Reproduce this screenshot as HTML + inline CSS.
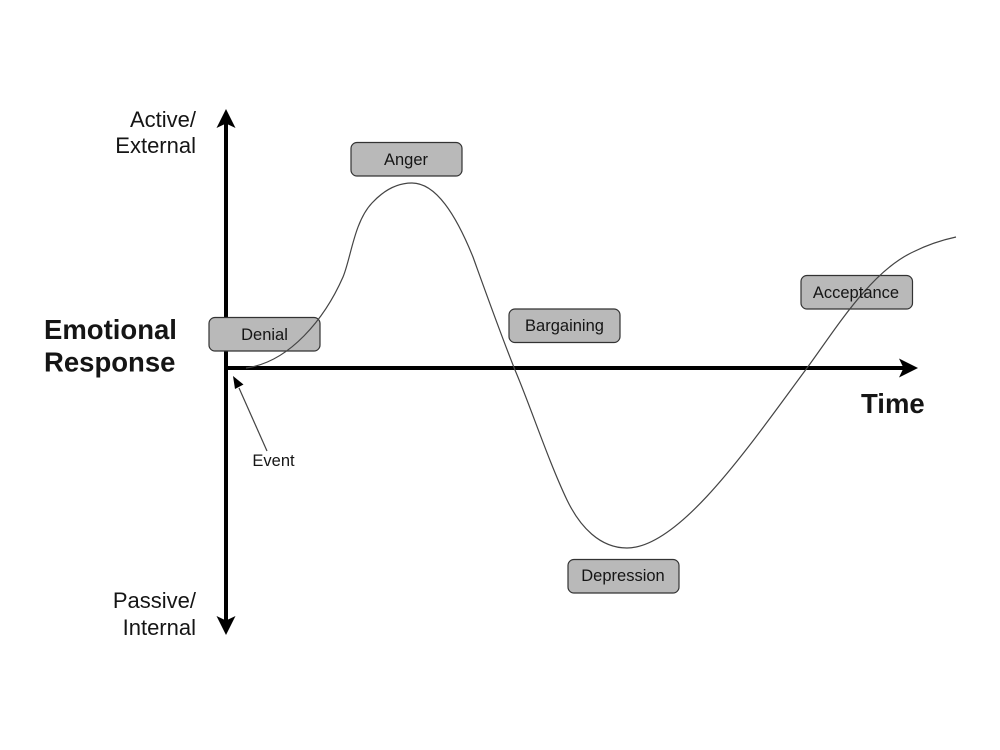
<!DOCTYPE html>
<html>
<head>
<meta charset="utf-8">
<style>
html,body{margin:0;padding:0;background:#fff;}
svg{display:block;}
text{font-family:"Liberation Sans",sans-serif;fill:#151515;}
.b{fill:#b9b9b9;stroke:#333;stroke-width:1.2;}
</style>
</head>
<body>
<svg width="1000" height="750" viewBox="0 0 1000 750" xmlns="http://www.w3.org/2000/svg">
<rect width="1000" height="750" fill="#fff"/>
<!-- axes -->
<line x1="226" y1="122" x2="226" y2="622" stroke="#000" stroke-width="4"/>
<path d="M226 109 L235.500 128 L226 123.500 L216.500 128 Z" fill="#000"/>
<path d="M226 635 L235.500 616 L226 620.500 L216.500 616 Z" fill="#000"/>
<line x1="226" y1="368" x2="905" y2="368" stroke="#000" stroke-width="4"/>
<path d="M918 368 L899 358.500 L903.500 368 L899 377.500 Z" fill="#000"/>
<!-- boxes -->
<rect class="b" x="209" y="317.500" width="111" height="33.500" rx="6"/>
<rect class="b" x="351" y="142.500" width="111" height="33.500" rx="6"/>
<rect class="b" x="509" y="309" width="111" height="33.500" rx="6"/>
<rect class="b" x="568" y="559.500" width="111" height="33.500" rx="6"/>
<rect class="b" x="801" y="275.500" width="111.500" height="33.500" rx="6"/>
<!-- curve -->
<path d="M246 368 C290 362 325 318 343 277 C351 258 354 222 372 203 C384 190 398 183 412 183 C436 183 456 215 473 257 C486 293 501 335 515 370 C530 405 548 460 567 500 C580 527 600 548 627 548 C680 548 750 445 807 368 C835 330 870 272 913 252 C927 245 942 240 956 237" fill="none" stroke="#444" stroke-width="1.200"/>
<!-- event arrow -->
<line x1="267" y1="451" x2="239" y2="388" stroke="#444" stroke-width="1.200"/>
<path d="M233 376 L243.500 384.500 L235 389 Z" fill="#000"/>
<!-- labels -->
<text x="196" y="127" font-size="22" text-anchor="end">Active/</text>
<text x="196" y="153" font-size="22" text-anchor="end">External</text>
<text x="196" y="608" font-size="22" text-anchor="end">Passive/</text>
<text x="196" y="635" font-size="22" text-anchor="end">Internal</text>
<text x="44" y="339" font-size="27.500" font-weight="bold">Emotional</text>
<text x="44" y="371.500" font-size="27.500" font-weight="bold">Response</text>
<text x="861" y="413" font-size="27.500" font-weight="bold">Time</text>
<text x="264.500" y="340" font-size="16.500" text-anchor="middle">Denial</text>
<text x="406" y="165" font-size="16.500" text-anchor="middle">Anger</text>
<text x="564.500" y="331" font-size="16.500" text-anchor="middle">Bargaining</text>
<text x="623" y="581" font-size="16.500" text-anchor="middle">Depression</text>
<text x="856" y="298" font-size="16.500" text-anchor="middle">Acceptance</text>
<text x="273.500" y="466" font-size="16.500" text-anchor="middle">Event</text>
</svg>
</body>
</html>
